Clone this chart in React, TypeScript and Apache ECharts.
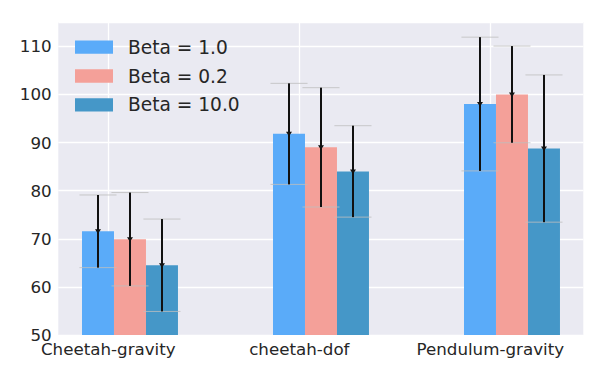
import React, { useEffect, useRef } from "react";
import * as echarts from "echarts";

const categories = ["Cheetah-gravity", "cheetah-dof", "Pendulum-gravity"];
const seriesNames = ["Beta = 1.0", "Beta = 0.2", "Beta = 10.0"];
const beta1Mean = [71.55, 91.8, 98.0];
const beta1Std = [7.55, 10.5, 13.9];
const beta02Mean = [69.9, 89.0, 100.0];
const beta02Std = [9.7, 12.4, 10.05];
const beta10Mean = [64.5, 84.0, 88.75];
const beta10Std = [9.6, 9.5, 15.3];
const yTicks = [50, 60, 70, 80, 90, 100, 110];

const COLORS = ["#5aabf9", "#f4a099", "#4597c8"];
const BAR_W = 0.1675;
const CAP_W = 0.194;
const OFFSETS = [-0.054, 0.1135, 0.281];
const Y_MIN = 50;
const TEXT = "#262626";
const FONT = "DejaVu Sans";

export default function App() {
  const ref = useRef<HTMLDivElement>(null);
  useEffect(() => {
    if (!ref.current) return;
    const chart = echarts.init(ref.current, undefined, { renderer: "svg" });
    const means = [beta1Mean, beta02Mean, beta10Mean];
    const stds = [beta1Std, beta02Std, beta10Std];

    const barSeries = means.map((m, i) => ({
      type: "custom",
      name: seriesNames[i],
      itemStyle: { color: COLORS[i] },
      z: 2,
      data: m.map((v, g) => [g + OFFSETS[i], v, stds[i][g]]),
      renderItem: (params: any, api: any) => {
        const x = api.value(0);
        const v = api.value(1);
        const p0 = api.coord([x - BAR_W / 2, v]);
        const p1 = api.coord([x + BAR_W / 2, Y_MIN]);
        return {
          type: "rect",
          shape: { x: p0[0], y: p0[1], width: p1[0] - p0[0], height: p1[1] - p0[1] },
          style: { fill: COLORS[i] },
        };
      },
    }));

    const errSeries = means.map((m, i) => ({
      type: "custom",
      name: "err" + i,
      z: 3,
      data: m.map((v, g) => [g + OFFSETS[i], v, stds[i][g]]),
      renderItem: (params: any, api: any) => {
        const x = api.value(0);
        const v = api.value(1);
        const s = api.value(2);
        const top = api.coord([x, v + s]);
        const bot = api.coord([x, v - s]);
        const mid = api.coord([x, v]);
        const capL = api.coord([x - CAP_W / 2, v + s]);
        const capR = api.coord([x + CAP_W / 2, v + s]);
        const capL2 = api.coord([x - CAP_W / 2, v - s]);
        const capR2 = api.coord([x + CAP_W / 2, v - s]);
        return {
          type: "group",
          children: [
            {
              type: "line",
              shape: { x1: capL[0], y1: capL[1], x2: capR[0], y2: capR[1] },
              style: { stroke: "rgba(190,190,190,0.8)", lineWidth: 1 },
            },
            {
              type: "line",
              shape: { x1: capL2[0], y1: capL2[1], x2: capR2[0], y2: capR2[1] },
              style: { stroke: "rgba(190,190,190,0.8)", lineWidth: 1 },
            },
            {
              type: "line",
              shape: { x1: top[0], y1: top[1], x2: bot[0], y2: bot[1] },
              style: { stroke: "#111111", lineWidth: 2 },
            },
            {
              type: "polygon",
              shape: {
                points: [
                  [mid[0] - 3, mid[1] - 2],
                  [mid[0] + 3, mid[1] - 2],
                  [mid[0], mid[1] + 2.5],
                ],
              },
              style: { fill: "#111111" },
            },
          ],
        };
      },
    }));

    chart.setOption({
      animation: false,
      textStyle: { fontFamily: FONT },
      legend: {
        data: seriesNames,
        orient: "vertical",
        left: 70,
        top: 32.7,
        icon: "rect",
        itemWidth: 38,
        itemHeight: 13.3,
        itemGap: 9.8,
        textStyle: {
          fontSize: 18.6,
          lineHeight: 18,
          color: TEXT,
          fontFamily: FONT,
          padding: [0, 0, 0, 10],
        },
      },
      grid: {
        left: 58.3,
        right: 14.7,
        top: 22,
        bottom: 32,
        show: true,
        backgroundColor: "#eaeaf2",
        borderWidth: 0,
      },
      xAxis: {
        type: "value",
        min: -0.2618,
        max: 2.4869,
        axisLine: { show: false },
        axisTick: { show: false, customValues: [0, 1, 2] },
        axisLabel: {
          customValues: [0, 1, 2],
          formatter: (v: number) => categories[Math.round(v)] ?? "",
          fontSize: 16.7,
          color: TEXT,
          fontFamily: FONT,
          margin: 5,
        },
        splitLine: { show: true, lineStyle: { color: "#ffffff", width: 1.3 } },
      },
      yAxis: {
        type: "value",
        min: 50,
        max: 115.05,
        interval: 10,
        axisLine: { show: false },
        axisTick: { show: false },
        axisLabel: {
          fontSize: 16.7,
          color: TEXT,
          fontFamily: FONT,
          margin: 6.6,
          formatter: (v: number) => (yTicks.includes(v) ? String(v) : ""),
        },
        splitLine: { show: true, lineStyle: { color: "#ffffff", width: 1.3 } },
      },
      series: [...barSeries, ...errSeries],
    });
    return () => chart.dispose();
  }, []);
  return (
    <div
      ref={ref}
      style={{ position: "fixed", left: 0, top: 0, width: 598, height: 367, background: "#ffffff" }}
    />
  );
}
